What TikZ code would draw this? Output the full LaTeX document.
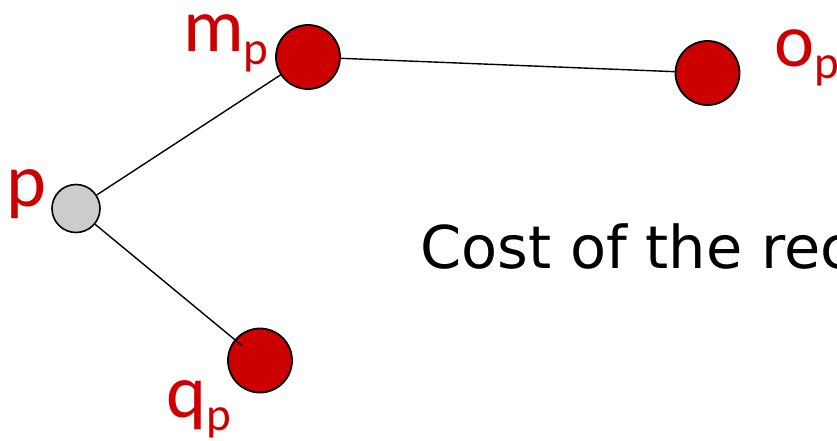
\documentclass[tikz,border=0pt]{standalone}
\usepackage{fontspec}
\setmainfont{DejaVu Sans}
\newfontfamily\lblfont{Carlito}
\usetikzlibrary{calc}
\definecolor{dotred}{RGB}{204,0,0}
\definecolor{dotgray}{RGB}{204,204,204}
\tikzset{
  bigdot/.style={circle, draw=black, line width=1.8pt, fill=dotred, minimum size=64pt, inner sep=0pt},
  smalldot/.style={circle, draw=black, line width=1.6pt, fill=dotgray, minimum size=48pt, inner sep=0pt},
  edge/.style={draw=black, line width=1.4pt},
  lbl/.style={text=dotred, inner sep=0pt, anchor=base west, font=\lblfont\fontsize{76}{76}\selectfont},
}
\newcommand{\subp}[1]{\raisebox{-#1}{\fontsize{47}{47}\selectfont p}}
\begin{document}
\begin{tikzpicture}[x=1pt,y=-1pt]
\useasboundingbox (0,0) rectangle (837,441);
\clip (0,0) rectangle (837,441);
\fill[white] (0,0) rectangle (837,441);
\node[smalldot] (p) at (76,208.5) {};
\node[bigdot] (m) at (308,57) {};
\node[bigdot] (o) at (707.5,73) {};
\node[bigdot] (q) at (260,360.5) {};
\draw[edge] (p) -- (m);
\draw[edge] (m) -- (o);
\coordinate (qin) at ($(q)!0.095!(p)$);
\draw[edge] (p) -- (qin);
\node[lbl] (mlab) at (183,52) {m\subp{13pt}};
\node[lbl] (olab) at (774,67) {o\subp{12pt}};
\node[lbl] (qlab) at (166,417) {q\subp{13pt}};
\node[lbl] (plab) at (6,206) {p};
\node[inner sep=0pt, anchor=base west, font=\fontsize{59}{59}\selectfont] (cost) at (420,268) {Cost of the rec};
\end{tikzpicture}
\end{document}
